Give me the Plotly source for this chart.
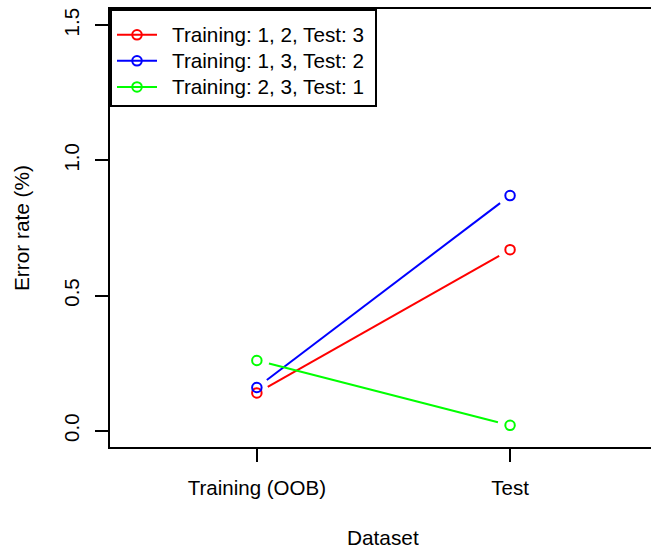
import plotly.graph_objects as go

# Error rate per dataset for each train/test split
datasets = ["Training (OOB)", "Test"]
dataset_pos = [1, 2]
split_names = ["Training: 1, 2, Test: 3", "Training: 1, 3, Test: 2", "Training: 2, 3, Test: 1"]
err_train12_test3 = [0.14, 0.67]
err_train13_test2 = [0.16, 0.87]
err_train23_test1 = [0.26, 0.02]
y_ticks = [0.0, 0.5, 1.0, 1.5]
y_tick_labels = ["0.0", "0.5", "1.0", "1.5"]

series = [err_train12_test3, err_train13_test2, err_train23_test1]
colors = ["#FF0000", "#0000FF", "#00FF00"]

FONT = "Liberation Sans, Arial, Helvetica, sans-serif"
W, H = 651, 547
margin = dict(l=110, r=0, t=9, b=100)
x_range = [0.42, 0.42 + (W - margin["l"] - margin["r"]) / 253.2]
y_range = [-0.06, 1.56]

# pixel scale of the plotting region, used to leave a gap around each point
px_x = (W - margin["l"] - margin["r"]) / (x_range[1] - x_range[0])
px_y = (H - margin["t"] - margin["b"]) / (y_range[1] - y_range[0])
GAP = 12.5


def gapped_segments(xs, ys):
    out_x, out_y = [], []
    for i in range(len(xs) - 1):
        dx = (xs[i + 1] - xs[i]) * px_x
        dy = (ys[i + 1] - ys[i]) * px_y
        d = (dx ** 2 + dy ** 2) ** 0.5
        if d <= 2 * GAP:
            continue
        fx, fy = dx / d * GAP / px_x, dy / d * GAP / px_y
        out_x += [xs[i] + fx, xs[i + 1] - fx, None]
        out_y += [ys[i] + fy, ys[i + 1] - fy, None]
    return out_x, out_y


def legend_label(text):
    pad = "\u00a0\u00a0"
    return (f"<span style='font-size:18px'>{pad}</span>"
            f"<span style='font-size:20.7px'>{text}\u00a0</span>")


fig = go.Figure()
for name, vals, col in zip(split_names, series, colors):
    sx, sy = gapped_segments(dataset_pos, vals)
    fig.add_trace(go.Scatter(x=sx, y=sy, mode="lines", line=dict(color=col, width=2),
                             showlegend=False, hoverinfo="skip"))
    fig.add_trace(go.Scatter(x=dataset_pos, y=vals, mode="markers", name=name,
                             marker=dict(symbol="circle-open", size=9.5, color=col,
                                         line=dict(width=2, color=col)),
                             showlegend=False))
    # legend entry: line with a circle, as in the key
    fig.add_trace(go.Scatter(x=[None], y=[None], mode="lines+markers", name=legend_label(name),
                             line=dict(color=col, width=2),
                             marker=dict(symbol="circle-open", size=9.5, color=col,
                                         line=dict(width=2, color=col))))

axis_common = dict(showgrid=False, zeroline=False, showline=True, linecolor="black",
                   linewidth=2, ticks="outside", ticklen=13, tickwidth=2, tickcolor="black",
                   ticklabelstandoff=8,
                   tickfont=dict(family=FONT, size=20.5, color="black"))

fig.update_xaxes(range=x_range, tickvals=dataset_pos, ticktext=datasets, mirror=True,
                 **axis_common)
fig.update_yaxes(range=y_range, tickvals=y_ticks, ticktext=y_tick_labels, tickangle=-90,
                 **axis_common)

fig.add_annotation(text="Dataset", xref="x", x=1.5, yref="paper", y=0, yshift=-90,
                   showarrow=False, yanchor="middle", height=20, valign="middle",
                   font=dict(family=FONT, size=20.8, color="black"))
fig.add_annotation(text="Error rate (%)", xref="paper", x=0, xshift=-89, yref="y",
                   y=0.75, textangle=-90, showarrow=False, xanchor="center",
                   font=dict(family=FONT, size=20.8, color="black"))

fig.update_layout(
    width=W, height=H, margin=margin,
    plot_bgcolor="white", paper_bgcolor="white",
    legend=dict(x=0, y=1, xanchor="left", yanchor="top", bordercolor="black",
                borderwidth=2, bgcolor="white", itemwidth=40,
                title=dict(text="\u00a0", font=dict(family=FONT, size=4.5)),
                font=dict(family=FONT, size=17.7, color="black"), tracegroupgap=0),
)

fig.write_html("out.html")
